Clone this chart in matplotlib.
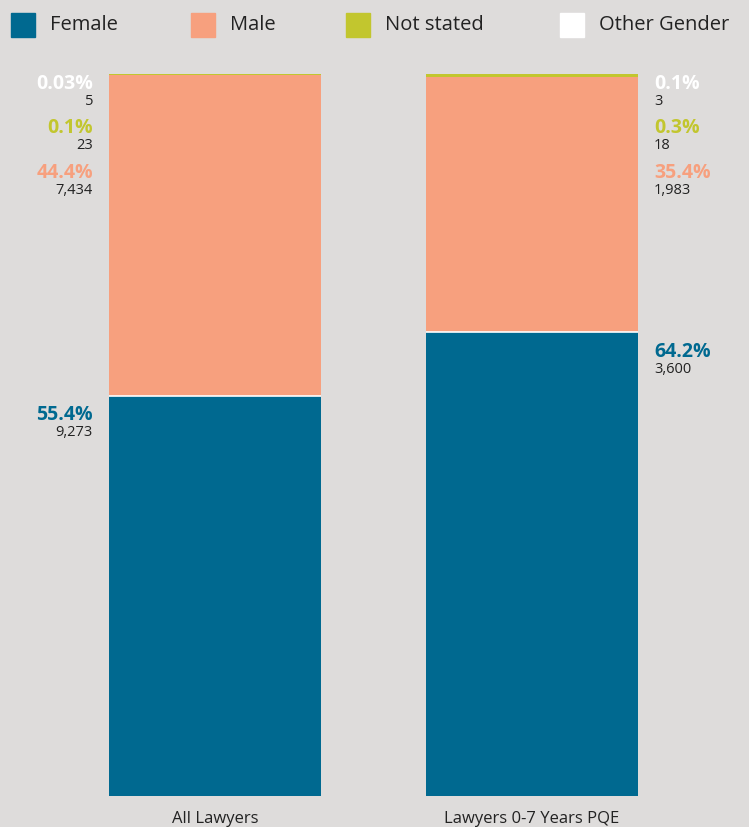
import matplotlib.pyplot as plt
import numpy as np

plt.rcParams['font.family'] = ['Open Sans', 'DejaVu Sans']

groups = ['All Lawyers', 'Lawyers 0-7 Years PQE']
genders = ['Female', 'Male', 'Not stated', 'Other Gender']
counts = {
    'Female': [9273, 3600],
    'Male': [7434, 1983],
    'Not stated': [23, 18],
    'Other Gender': [5, 3],
}
pct_labels = {
    'Female': ['55.4%', '64.2%'],
    'Male': ['44.4%', '35.4%'],
    'Not stated': ['0.1%', '0.3%'],
    'Other Gender': ['0.03%', '0.1%'],
}
colors = {'Female': '#006990', 'Male': '#f7a07e',
          'Not stated': '#c2c62e', 'Other Gender': '#ffffff'}
bg = '#dedcdb'

W, H = 749, 827
fig = plt.figure(figsize=(W / 100, H / 100), dpi=100, facecolor=bg)
ax = fig.add_axes([0, (H - 796) / H, 1, (796 - 74) / H])
ax.set_facecolor(bg)

x = np.arange(len(groups))
totals = np.sum([counts[g] for g in genders], axis=0)
bw = 212 / 317
bottom = np.zeros(len(groups))
tops = {}
for g in genders:
    frac = np.array(counts[g]) / totals
    ax.bar(x, frac, bw, bottom=bottom, color=colors[g], linewidth=0)
    bottom = bottom + frac
    tops[g] = bottom.copy()

# thin white divider between female and male
ax.hlines(tops['Female'], x - bw / 2, x + bw / 2, color='white', lw=1.2)

ax.set_xlim(-215 / 317, 1 + (749 - 532) / 317)
ax.set_ylim(0, 1)
for s in ax.spines.values():
    s.set_visible(False)
ax.set_yticks([])
ax.set_xticks(x)
ax.set_xticklabels(groups, fontsize=12, color='#222222')
ax.tick_params(axis='x', length=0, pad=11)

# label columns on outer sides of the bars
lx = [-bw / 2 - 16 / 317, 1 + bw / 2 + 16 / 317]
ha = ['right', 'left']
stack_y = {'Other Gender': 0.986, 'Not stated': 0.925, 'Male': 0.863}
for i in range(len(groups)):
    for g in ['Other Gender', 'Not stated', 'Male']:
        y = stack_y[g]
        ax.text(lx[i], y, pct_labels[g][i], ha=ha[i], va='center',
                fontsize=14, fontweight='bold', color=colors[g])
        ax.text(lx[i], y - 0.024, f'{counts[g][i]:,}', ha=ha[i], va='center',
                fontsize=10.5, color='#222222')
    yf = tops['Female'][i] - 0.027
    ax.text(lx[i], yf, pct_labels['Female'][i], ha=ha[i], va='center',
            fontsize=14, fontweight='bold', color=colors['Female'])
    ax.text(lx[i], yf - 0.024, f"{counts['Female'][i]:,}", ha=ha[i],
            va='center', fontsize=10.5, color='#222222')

# legend row
sq_x = [11, 191, 346, 560]
for g, px in zip(genders, sq_x):
    fig.patches.append(plt.Rectangle((px / W, 1 - 37 / H), 24 / W, 24 / H,
                                     transform=fig.transFigure,
                                     color=colors[g]))
    fig.text((px + 39) / W, 1 - 25 / H, g, fontsize=14.5, va='center',
             color='#222222')

fig.savefig('out.png', facecolor=bg)
